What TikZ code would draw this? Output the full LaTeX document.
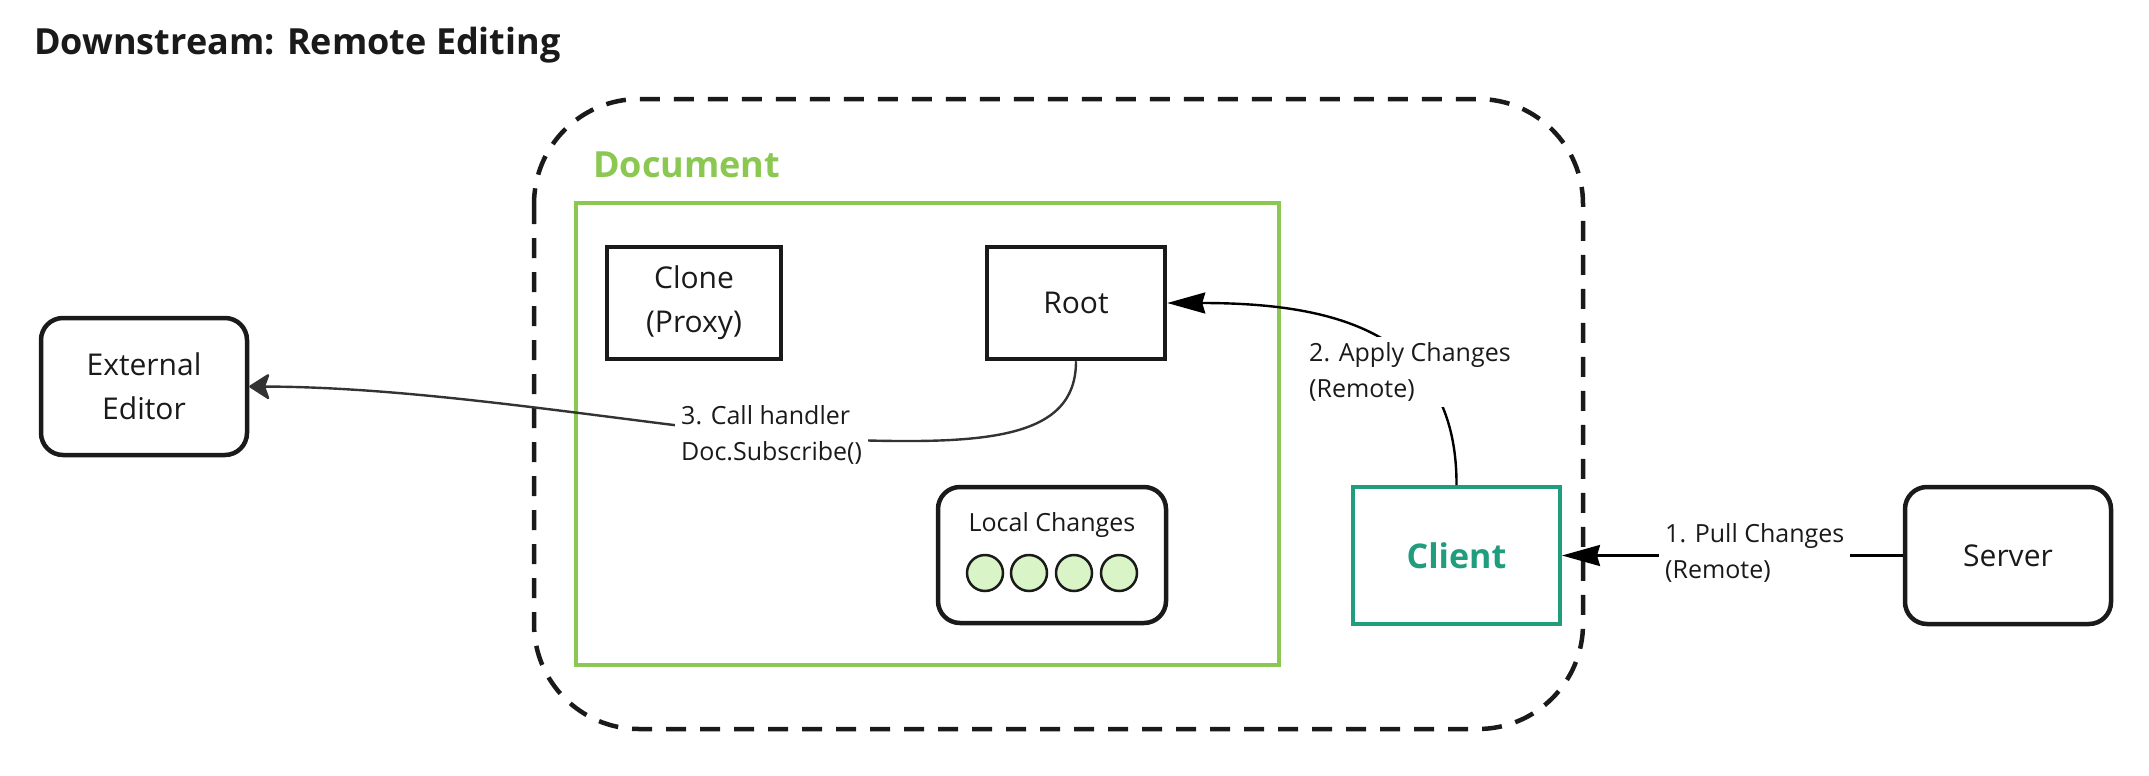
\documentclass[tikz,border=0pt]{standalone}
\usepackage{fontspec}
\setmainfont{Open Sans}
\usetikzlibrary{arrows.meta}
\definecolor{docgreen}{RGB}{139,200,82}
\definecolor{clientteal}{RGB}{32,157,125}
\definecolor{dotfill}{RGB}{217,245,199}
\definecolor{ink}{RGB}{26,26,26}
\definecolor{softink}{RGB}{51,51,51}
\tikzset{
  box/.style={draw=ink, line width=4.5pt, font=\fontsize{30}{44}\selectfont, text=ink, align=center, inner sep=0pt},
  rbox/.style={box, rounded corners=22pt},
  conn/.style={draw=black, line width=2.4pt},
  arr/.style={conn, -{Stealth[length=38pt,width=21pt,inset=3pt]}},
  arrsoft/.style={draw=softink, line width=2.4pt, -{Stealth[round,length=22pt,width=28pt,inset=5pt]}},
  lbl/.style={fill=white, font=\fontsize{25}{36}\selectfont, text=ink, align=left, inner sep=6pt, anchor=west},
  dot/.style={circle, draw=ink, line width=2.5pt, fill=dotfill, minimum size=36pt, inner sep=0pt},
}
\begin{document}
\begin{tikzpicture}[x=1pt,y=-1pt]
\useasboundingbox[fill=white] (0,0) rectangle (2149,776);
% title
\node[anchor=base west, font=\bfseries\fontsize{36}{40}\selectfont, text=ink, inner sep=0pt] (title) at (34,55) {Downstream: Remote Editing};
% outer dashed boundary
\draw[ink, line width=4.5pt, dash pattern=on 20pt off 14pt, rounded corners=105pt] (534,99) rectangle (1583,729);
% document area
\draw[docgreen, line width=4pt] (576,203) rectangle (1279,665);
\node[anchor=base west, font=\bfseries\fontsize{36}{40}\selectfont, text=docgreen, inner sep=0pt] (doclabel) at (593,177) {Document};
% nodes
\node[rbox, minimum width=206pt, minimum height=137pt] (editor) at (144,386.5) {External\\Editor};
\node[box, minimum width=174pt, minimum height=112pt] (clone) at (694,303) {Clone\\(Proxy)};
\node[box, minimum width=178pt, minimum height=112pt] (root) at (1076,303) {Root};
\node[rbox, minimum width=228pt, minimum height=136pt] (local) at (1052,555) {};
\node[font=\fontsize{25}{30}\selectfont, text=ink, inner sep=0pt] (localtxt) at (1052,525) {Local Changes};
\node[dot] (d1) at (985,573) {};
\node[dot] (d2) at (1029,573) {};
\node[dot] (d3) at (1074,573) {};
\node[dot] (d4) at (1119,573) {};
\node[box, draw=clientteal, line width=4pt, text=clientteal, font=\bfseries\fontsize{34}{40}\selectfont, minimum width=207pt, minimum height=137pt] (client) at (1456.5,555.5) {Client};
\node[rbox, minimum width=206pt, minimum height=137pt] (server) at (2008,555.5) {Server};
% connectors
\draw[arr] (server.west) -- (client.east);
\node[lbl] (l1) at (1659,553) {1. Pull Changes\\(Remote)};
\draw[arr] (client.north) .. controls (1457,330) and (1330,303) .. (root.east);
\node[lbl] (l2) at (1303,372) {2. Apply Changes\\(Remote)};
\coordinate (c3) at (775,437);
\draw[arrsoft] (root.south) .. controls (1076,450) and (960,445) .. (c3) .. controls (600,418) and (420,387) .. (editor.east);
\node[lbl] (l3) at (675,435) {3. Call handler\\Doc.Subscribe()};
\end{tikzpicture}
\end{document}
